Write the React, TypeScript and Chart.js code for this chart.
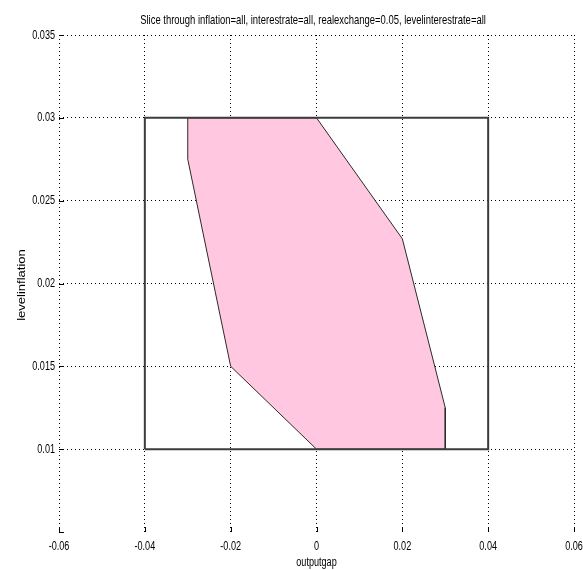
import { useEffect, useRef } from "react";
import { Chart, registerables } from "chart.js";

Chart.register(...registerables);

// Axis ticks
const xTickValues = [-0.06, -0.04, -0.02, 0, 0.02, 0.04, 0.06];
const xTickLabels = ["-0.06", "-0.04", "-0.02", "0", "0.02", "0.04", "0.06"];
const yTickValues = [0.005, 0.01, 0.015, 0.02, 0.025, 0.03, 0.035];
const yTickLabels = ["", "0.01", "0.015", "0.02", "0.025", "0.03", "0.035"];

// Feasible slice (closed polygon): outputgap vs levelinflation
const sliceOutputgap = [-0.03, 0, 0.02, 0.03, 0.03, 0, -0.02, -0.03, -0.03];
const sliceLevelinflation = [0.03, 0.03, 0.0227, 0.0125, 0.01, 0.01, 0.015, 0.0275, 0.03];

// Variable bounds box
const boundsOutputgap = [-0.04, 0.04, 0.04, -0.04, -0.04];
const boundsLevelinflation = [0.01, 0.01, 0.03, 0.03, 0.01];

const titleText =
  "Slice through inflation=all, interestrate=all, realexchange=0.05, levelinterestrate=all";
const xAxisTitle = "outputgap";
const yAxisTitle = "levelinflation";

const FONT = '13px "Liberation Sans", Arial, sans-serif';
const SQUASH = 0.7;
const TITLE_SQUASH = 0.727;

function squashedText(
  ctx: CanvasRenderingContext2D,
  text: string,
  x: number,
  y: number,
  align: CanvasTextAlign,
  baseline: CanvasTextBaseline,
  sx: number
) {
  ctx.save();
  ctx.translate(x, y);
  ctx.scale(sx, 1);
  ctx.textAlign = align;
  ctx.textBaseline = baseline;
  ctx.fillText(text, 0, 0);
  ctx.restore();
}

// Inward tick marks, tick labels, title and axis titles in a narrow face
const axesDecor = {
  id: "axesDecor",
  afterDraw(chart: any) {
    const { ctx, chartArea: a } = chart;
    const xs = chart.scales.x;
    const ys = chart.scales.y;
    ctx.save();
    ctx.strokeStyle = "#000";
    ctx.lineWidth = 1;
    ctx.setLineDash([]);
    ctx.beginPath();
    xTickValues.forEach((v) => {
      const px = Math.round(xs.getPixelForValue(v)) + 0.5;
      ctx.moveTo(px, a.bottom);
      ctx.lineTo(px, a.bottom - 5);
    });
    yTickValues.forEach((v) => {
      const py = Math.round(ys.getPixelForValue(v)) + 0.5;
      ctx.moveTo(a.left, py);
      ctx.lineTo(a.left + 5, py);
    });
    ctx.stroke();

    ctx.fillStyle = "#000";
    ctx.font = FONT;
    xTickValues.forEach((v, i) => {
      squashedText(ctx, xTickLabels[i], xs.getPixelForValue(v), a.bottom + 18, "center", "alphabetic", SQUASH);
    });
    yTickValues.forEach((v, i) => {
      squashedText(ctx, yTickLabels[i], a.left - 4, ys.getPixelForValue(v), "right", "middle", SQUASH);
    });

    squashedText(ctx, titleText, 313, 24, "center", "alphabetic", TITLE_SQUASH);
    squashedText(ctx, xAxisTitle, (a.left + a.right) / 2, 566, "center", "alphabetic", SQUASH);

    ctx.save();
    ctx.translate(25, 285);
    ctx.scale(0.85, 1);
    ctx.rotate(-Math.PI / 2);
    ctx.textAlign = "center";
    ctx.textBaseline = "alphabetic";
    ctx.fillText(yAxisTitle, 0, 0);
    ctx.restore();

    ctx.restore();
  },
};

export default function App() {
  const canvasRef = useRef<HTMLCanvasElement | null>(null);

  useEffect(() => {
    if (!canvasRef.current) return;
    const chart = new Chart(canvasRef.current, {
      type: "scatter",
      data: {
        datasets: [
          {
            label: "bounds",
            data: boundsOutputgap.map((x, i) => ({ x, y: boundsLevelinflation[i] })),
            showLine: true,
            borderColor: "#3c3c3c",
            borderWidth: 2,
            pointRadius: 0,
            fill: false,
            order: 0,
          },
          {
            label: "slice",
            data: sliceOutputgap.map((x, i) => ({ x, y: sliceLevelinflation[i] })),
            showLine: true,
            borderColor: "#2a2a2a",
            borderWidth: 1,
            backgroundColor: "#ffc8e0",
            pointRadius: 0,
            fill: "shape",
            order: 1,
          },
        ],
      },
      options: {
        animation: false,
        responsive: false,
        layout: { padding: { left: 59, top: 35, right: 9, bottom: 38 } },
        plugins: {
          legend: { display: false },
          tooltip: { enabled: false },
          title: { display: false },
        },
        scales: {
          x: {
            type: "linear",
            min: -0.06,
            max: 0.06,
            z: 1,
            afterBuildTicks: (s: any) => {
              s.ticks = xTickValues.map((value) => ({ value }));
            },
            ticks: { display: false },
            grid: { color: "#000", lineWidth: 1, drawTicks: false, tickLength: 0 },
            border: { display: false, dash: [1, 3] },
          },
          y: {
            type: "linear",
            min: 0.005,
            max: 0.035,
            z: 1,
            afterBuildTicks: (s: any) => {
              s.ticks = yTickValues.map((value) => ({ value }));
            },
            ticks: { display: false },
            grid: {
              color: (c: any) =>
                c.tick && c.tick.value === yTickValues[0] ? "rgba(0,0,0,0)" : "#000",
              lineWidth: 1,
              drawTicks: false,
              tickLength: 0,
            },
            border: { display: false, dash: [1, 3] },
          },
        },
      },
      plugins: [axesDecor],
    });
    return () => chart.destroy();
  }, []);

  return (
    <div style={{ position: "fixed", left: 0, top: 0, width: 583, height: 570, background: "#fff" }}>
      <canvas ref={canvasRef} width={583} height={570} style={{ display: "block" }} />
    </div>
  );
}
